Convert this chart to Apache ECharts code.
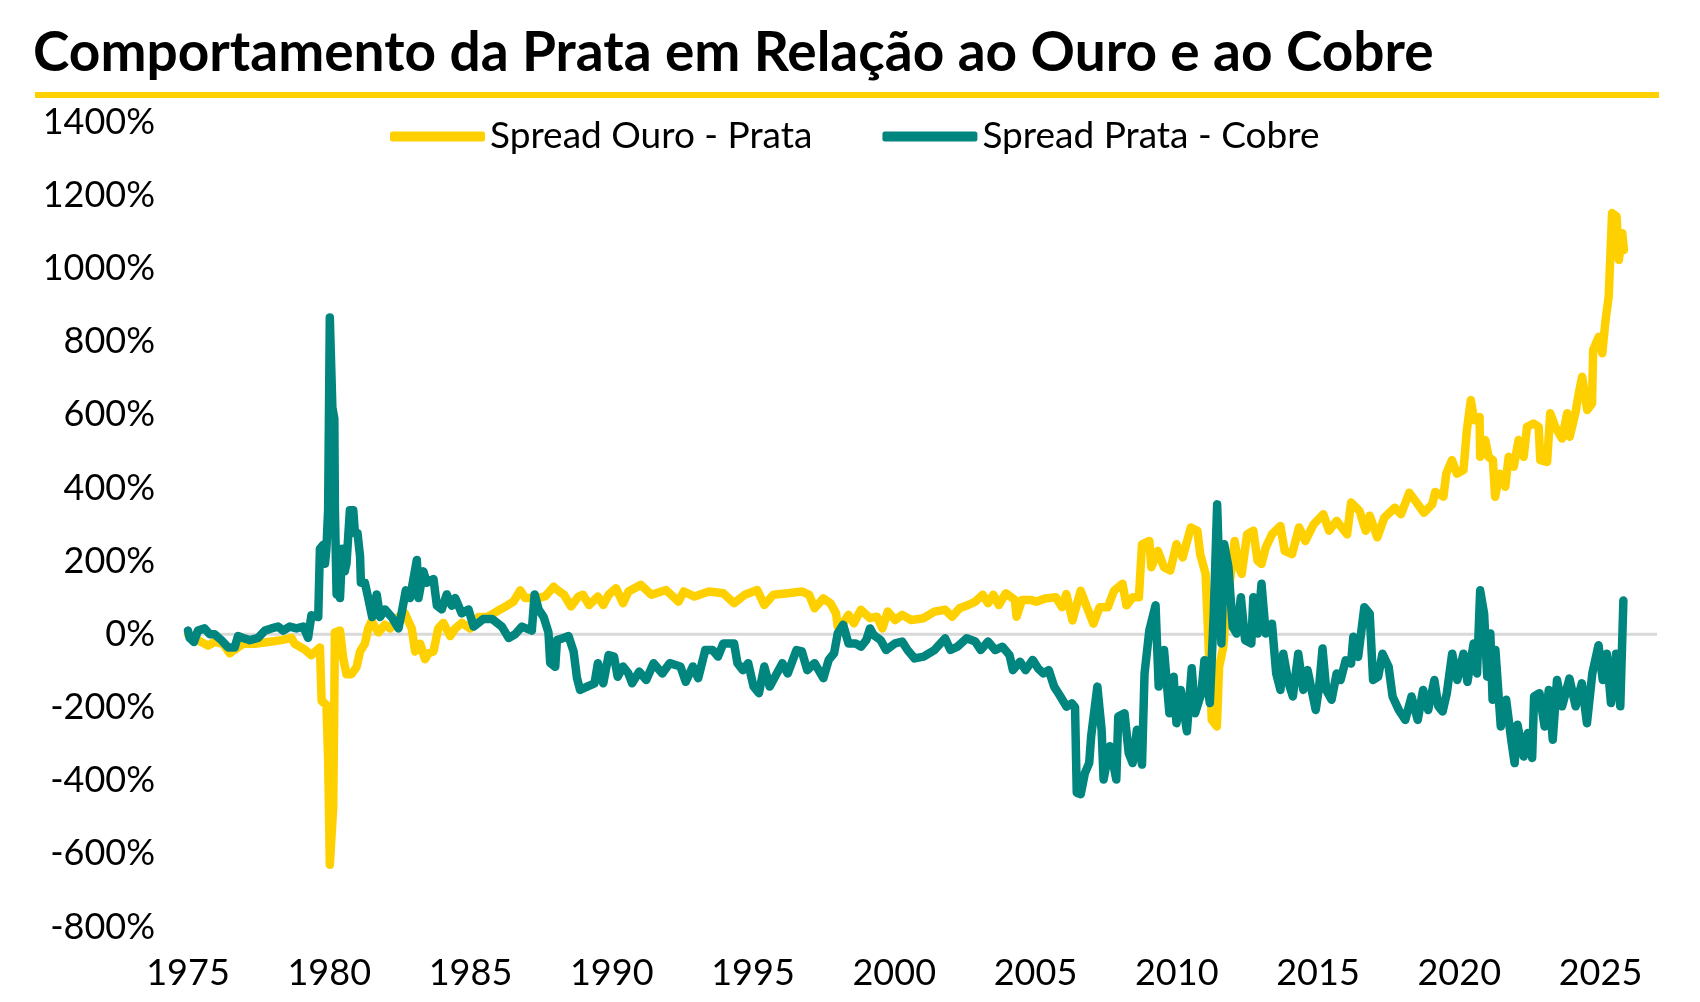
<!DOCTYPE html>
<html>
<head>
<meta charset="utf-8">
<script src="https://cdn.jsdelivr.net/npm/echarts@6/dist/echarts.min.js"></script>
<style>
html,body{margin:0;padding:0;background:#fff;}
#chart{width:1700px;height:1002px;}
</style>
</head>
<body>
<div id="chart"></div>
<script>
const titleText = 'Comportamento da Prata em Relação ao Ouro e ao Cobre';
const seriesNames = ['Spread Ouro - Prata', 'Spread Prata - Cobre'];
const yTicks = { min: -800, max: 1400, step: 200 };
const xTicks = { min: 1975, max: 2027, step: 5 };
const zeroLine = [[1975, 0], [2027, 0]];

const spreadOuroPrata = [
[1975.0,0],[1975.25,-10],[1975.47,-21],[1975.71,-31],[1975.94,-21],[1976.24,-26],[1976.48,-52],[1976.65,-42],[1976.95,-26],[1977.36,-26],[1977.84,-21],[1978.31,-16],[1978.66,-10],[1978.78,-26],[1979.14,-42],[1979.37,-57],[1979.67,-36],[1979.73,-182],[1979.9,-193],[1979.96,-339],[1980.02,-630],[1980.14,-474],[1980.18,-182],[1980.2,5],[1980.38,10],[1980.5,-68],[1980.61,-109],[1980.79,-109],[1980.97,-89],[1981.09,-47],[1981.26,-26],[1981.38,16],[1981.5,36],[1981.74,5],[1981.97,26],[1982.15,16],[1982.45,47],[1982.68,57],[1982.8,36],[1982.92,16],[1983.04,-47],[1983.22,-26],[1983.39,-68],[1983.51,-52],[1983.69,-47],[1983.86,16],[1984.04,31],[1984.28,-5],[1984.46,16],[1984.69,31],[1984.99,16],[1985.28,47],[1985.58,47],[1985.82,57],[1986.05,68],[1986.29,78],[1986.52,89],[1986.76,120],[1986.94,99],[1987.17,99],[1987.41,99],[1987.65,104],[1987.94,130],[1988.18,115],
[1988.31,108],[1988.56,76],[1988.82,103],[1988.98,108],[1989.2,80],[1989.51,103],[1989.7,80],[1989.89,108],[1990.15,126],[1990.4,85],[1990.59,117],[1991.03,135],[1991.41,108],[1991.92,121],[1992.36,89],[1992.55,117],[1992.93,103],[1993.44,117],[1993.95,112],[1994.33,85],[1994.71,108],[1995.15,121],[1995.4,80],[1995.72,108],[1996.23,112],[1996.73,117],[1996.99,108],[1997.18,71],[1997.49,98],[1997.74,85],[1997.94,57],[1998.0,21],[1998.19,30],[1998.38,53],[1998.57,30],[1998.82,67],[1999.14,44],[1999.39,48],[1999.58,16],[1999.77,62],[2000.03,39],[2000.28,53],[2000.6,39],[2001.04,44],[2001.42,62],[2001.8,67],[2002.05,48],[2002.31,71],[2002.62,80],[2002.87,89],[2003.13,108],[2003.32,85],[2003.51,108],[2003.7,80],[2003.95,112],[2004.27,94],[2004.33,48],[2004.52,94],[2004.84,94],[2005.03,89],[2005.34,98],
[2005.72,101],[2005.94,74],[2006.09,110],[2006.31,38],[2006.6,119],[2006.82,74],[2007.05,29],[2007.27,74],[2007.56,74],[2007.78,119],[2008.08,138],[2008.22,79],[2008.44,101],[2008.66,101],[2008.77,246],[2009.03,255],[2009.1,183],[2009.33,228],[2009.55,183],[2009.77,174],[2009.99,246],[2010.21,210],[2010.5,292],[2010.73,283],[2010.83,219],[2011.02,165],[2011.09,38],[2011.24,-234],[2011.42,-252],[2011.5,-89],[2011.65,-34],[2011.76,83],[2011.9,156],[2012.05,255],[2012.2,183],[2012.3,165],[2012.49,273],[2012.71,283],[2012.86,201],[2013.0,192],[2013.15,237],[2013.37,273],[2013.67,296],[2013.82,228],[2014.08,219],[2014.33,292],[2014.55,255],[2014.85,301],[2015.19,328],[2015.39,283],[2015.66,310],[2016.03,273],[2016.17,360],[2016.47,337],[2016.69,283],[2016.83,324],[2017.1,265],[2017.35,319],[2017.72,346],[2017.94,328],[2018.23,387],[2018.45,364],[2018.75,332],[2019.04,355],
[2019.15,389],[2019.44,376],[2019.54,439],[2019.74,476],[2019.92,439],[2020.15,449],[2020.27,558],[2020.41,640],[2020.53,585],[2020.72,594],[2020.74,485],[2020.92,531],[2021.04,485],[2021.19,476],[2021.27,376],[2021.43,439],[2021.63,403],[2021.75,485],[2021.93,458],[2022.1,531],[2022.28,485],[2022.4,567],[2022.63,576],[2022.81,567],[2022.87,476],[2023.11,471],[2023.22,604],[2023.4,567],[2023.64,535],[2023.82,604],[2023.91,540],[2024.11,604],[2024.23,658],[2024.35,704],[2024.53,613],[2024.7,631],[2024.74,777],[2024.94,813],[2025.06,768],[2025.18,859],[2025.29,923],[2025.41,1151],[2025.57,1142],[2025.65,1023],[2025.77,1096],[2025.83,1050]
];

const spreadPrataCobre = [
[1975.0,10],[1975.06,-10],[1975.21,-21],[1975.35,10],[1975.59,16],[1975.77,0],[1975.94,0],[1976.18,-16],[1976.42,-36],[1976.65,-36],[1976.77,-5],[1976.95,-10],[1977.19,-16],[1977.48,-10],[1977.72,10],[1977.95,16],[1978.19,21],[1978.37,10],[1978.6,21],[1978.84,16],[1979.08,21],[1979.25,-10],[1979.37,52],[1979.61,47],[1979.67,234],[1979.79,245],[1979.85,193],[1979.9,234],[1979.96,339],[1980.02,866],[1980.11,620],[1980.18,589],[1980.2,339],[1980.26,109],[1980.32,234],[1980.38,99],[1980.46,234],[1980.55,172],[1980.61,193],[1980.73,339],[1980.85,339],[1980.91,276],[1981.0,276],[1981.09,214],[1981.12,141],[1981.26,141],[1981.38,99],[1981.52,47],[1981.68,109],[1981.8,47],[1981.97,68],[1982.21,47],[1982.45,16],[1982.56,57],[1982.71,120],[1982.86,99],[1983.1,203],[1983.16,99],[1983.33,172],[1983.45,141],[1983.69,151],[1983.81,78],[1983.98,68],[1984.16,109],[1984.34,78],[1984.46,99],[1984.69,57],[1984.93,68],[1985.11,21],[1985.46,42],[1985.76,42],[1986.11,21],[1986.35,-10],[1986.58,0],[1986.82,21],[1987.17,10],[1987.27,109],[1987.41,68],[1987.59,47],[1987.76,5],[1987.82,-78],[1988.0,-89],[1988.06,-16],[1988.29,-10],[1988.47,-5],[1988.65,-47],[1988.77,-120],
[1988.88,-152],[1989.13,-143],[1989.39,-134],[1989.51,-79],[1989.7,-134],[1989.89,-57],[1990.08,-61],[1990.21,-116],[1990.4,-88],[1990.59,-107],[1990.72,-134],[1990.97,-102],[1991.22,-125],[1991.48,-79],[1991.79,-107],[1992.05,-79],[1992.43,-88],[1992.62,-130],[1992.87,-88],[1993.06,-120],[1993.31,-43],[1993.57,-43],[1993.76,-61],[1993.95,-25],[1994.33,-25],[1994.45,-79],[1994.64,-98],[1994.83,-79],[1995.02,-143],[1995.21,-161],[1995.4,-88],[1995.59,-143],[1995.78,-116],[1996.04,-79],[1996.23,-107],[1996.54,-43],[1996.73,-47],[1996.92,-98],[1997.18,-79],[1997.49,-120],[1997.68,-70],[1997.87,-52],[1998.0,3],[1998.19,26],[1998.38,-25],[1998.63,-25],[1998.82,-34],[1999.01,-16],[1999.14,16],[1999.27,-2],[1999.52,-16],[1999.71,-43],[2000.03,-25],[2000.28,-20],[2000.47,-43],[2000.72,-66],[2001.04,-61],[2001.42,-43],[2001.8,-11],[2001.99,-43],[2002.24,-34],[2002.56,-11],[2002.87,-20],[2003.06,-43],[2003.32,-20],[2003.57,-43],[2003.83,-34],[2004.08,-57],[2004.2,-98],[2004.45,-75],[2004.65,-98],[2004.9,-70],[2005.09,-93],[2005.28,-107],[2005.47,-98],[2005.66,-143],[2005.85,-166],[2006.1,-198],[2006.29,-189],
[2006.4,-200],[2006.46,-433],[2006.6,-437],[2006.75,-379],[2006.9,-352],[2006.97,-279],[2007.19,-143],[2007.34,-261],[2007.41,-397],[2007.63,-306],[2007.86,-397],[2007.93,-225],[2008.15,-216],[2008.3,-325],[2008.44,-352],[2008.59,-261],[2008.77,-356],[2008.86,-107],[2009.03,11],[2009.25,79],[2009.36,-143],[2009.55,-43],[2009.74,-216],[2009.89,-116],[2009.99,-243],[2010.14,-152],[2010.36,-265],[2010.53,-93],[2010.65,-216],[2010.87,-161],[2010.98,-71],[2011.17,-188],[2011.31,56],[2011.43,355],[2011.58,-25],[2011.68,246],[2011.83,183],[2011.98,20],[2012.12,2],[2012.27,101],[2012.42,-16],[2012.64,-25],[2012.71,101],[2012.86,2],[2013.0,138],[2013.15,2],[2013.37,29],[2013.52,-107],[2013.67,-152],[2013.77,-53],[2013.96,-134],[2014.11,-170],[2014.3,-53],[2014.48,-152],[2014.63,-98],[2014.92,-207],[2015.04,-143],[2015.16,-39],[2015.29,-152],[2015.48,-179],[2015.66,-107],[2015.8,-125],[2015.98,-71],[2016.17,-80],[2016.25,-7],[2016.42,-62],[2016.64,74],[2016.83,56],[2016.95,-125],[2017.13,-116],[2017.28,-53],[2017.5,-89],[2017.64,-170],[2017.86,-207],[2018.09,-234],[2018.31,-170],[2018.53,-234],[2018.72,-152],[2018.9,-207],[2019.12,-125],[2019.26,-197],[2019.41,-211],[2019.56,-161],[2019.75,-53],[2019.93,-125],[2020.15,-53],[2020.29,-130],[2020.51,-25],[2020.63,-107],[2020.74,120],[2020.88,56],[2020.99,-116],[2021.1,2],[2021.18,-179],[2021.28,-43],[2021.47,-252],[2021.66,-179],[2021.84,-288],[2021.96,-352],[2022.06,-247],[2022.28,-334],[2022.43,-270],[2022.58,-338],[2022.65,-170],[2022.84,-161],[2023.02,-252],[2023.17,-152],[2023.31,-288],[2023.46,-125],[2023.64,-197],[2023.9,-121],[2024.12,-197],[2024.34,-134],[2024.52,-243],[2024.71,-107],[2024.93,-30],[2025.08,-125],[2025.22,-53],[2025.37,-188],[2025.55,-53],[2025.7,-197],[2025.81,92]
];

const colors = { ouro: '#FFD000', cobre: '#00857F', zero: '#D9D9D9' };

const chart = echarts.init(document.getElementById('chart'), null, { renderer: 'canvas' });
chart.setOption({
  backgroundColor: '#ffffff',
  animation: false,
  title: {
    text: titleText,
    left: 28,
    top: 21,
    textStyle: { fontFamily: 'Lato', fontWeight: 'bold', fontSize: 55, color: '#000' }
  },
  graphic: [{
    type: 'rect',
    shape: { x: 35, y: 92, width: 1624, height: 6 },
    style: { fill: '#FFD000' },
    silent: true
  }],
  legend: {
    data: seriesNames,
    top: 118,
    left: 390,
    padding: 0,
    itemWidth: 95,
    itemHeight: 10,
    itemGap: 70,
    icon: 'roundRect',
    textStyle: { fontFamily: 'Lato', fontSize: 37, color: '#000', padding: [0, 0, 0, 0] }
  },
  grid: { left: 188, right: 43, top: 122, bottom: 75, containLabel: false },
  xAxis: {
    type: 'value',
    min: xTicks.min,
    max: xTicks.max,
    interval: xTicks.step,
    axisLine: { show: false },
    axisTick: { show: false },
    splitLine: { show: false },
    axisLabel: {
      margin: 28,
      fontFamily: 'Lato',
      fontSize: 36,
      color: '#000',
      formatter: v => (v % 5 === 0 ? String(v) : '')
    }
  },
  yAxis: {
    type: 'value',
    min: yTicks.min,
    max: yTicks.max,
    interval: yTicks.step,
    axisLine: { show: false },
    axisTick: { show: false },
    splitLine: { show: false },
    axisLabel: {
      margin: 33,
      fontFamily: 'Lato',
      fontSize: 36,
      color: '#000',
      formatter: v => v + '%'
    }
  },
  series: [
    {
      name: 'zero',
      type: 'line',
      data: zeroLine,
      showSymbol: false,
      silent: true,
      z: 1,
      lineStyle: { color: colors.zero, width: 3 }
    },
    {
      name: seriesNames[0],
      type: 'line',
      data: spreadOuroPrata,
      showSymbol: false,
      z: 2,
      itemStyle: { color: colors.ouro },
      lineStyle: { color: colors.ouro, width: 8.5, cap: 'round', join: 'round' }
    },
    {
      name: seriesNames[1],
      type: 'line',
      data: spreadPrataCobre,
      showSymbol: false,
      z: 3,
      itemStyle: { color: colors.cobre },
      lineStyle: { color: colors.cobre, width: 8.5, cap: 'round', join: 'round' }
    }
  ]
});
</script>
</body>
</html>
